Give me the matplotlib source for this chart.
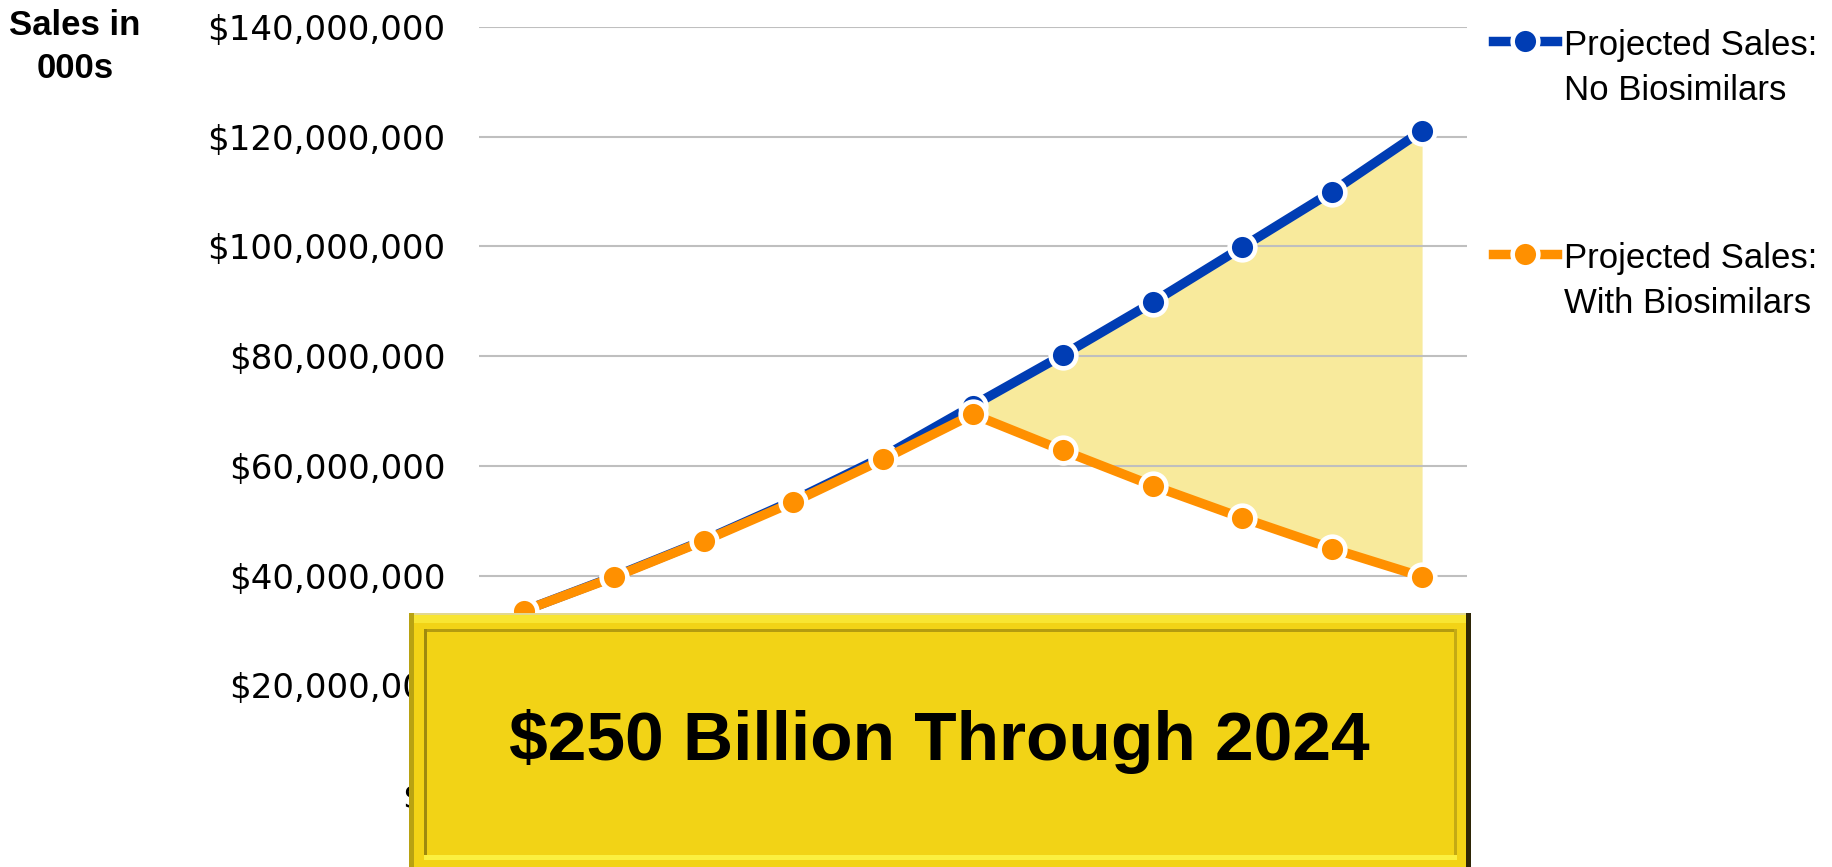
import numpy as np
import matplotlib.pyplot as plt
from matplotlib.patches import Rectangle
from matplotlib.ticker import FuncFormatter

years = [2014, 2015, 2016, 2017, 2018, 2019, 2020, 2021, 2022, 2023, 2024]
# sales in thousands of dollars
no_biosimilars = [33.6e6, 39.8e6, 46.4e6, 53.7e6, 61.7e6, 71.0e6,
                  80.2e6, 89.8e6, 99.9e6, 110.0e6, 121.1e6]
with_biosimilars = [33.6e6, 39.7e6, 46.3e6, 53.4e6, 61.2e6, 69.4e6,
                    62.8e6, 56.4e6, 50.5e6, 44.9e6, 39.8e6]
series_labels = ["Projected Sales:\nNo Biosimilars", "Projected Sales:\nWith Biosimilars"]
callout = "$250 Billion Through 2024"

blue = "#003DB4"
orange = "#FF9000"
gap_fill = "#F8EA9C"

W, H = 1833, 867
fig = plt.figure(figsize=(W / 100, H / 100), dpi=100)
ax = fig.add_axes([479 / W, 72 / H, (1467 - 479) / W, (795 - 27) / H])

x = np.arange(len(years))
ax.fill_between(x[5:], with_biosimilars[5:], no_biosimilars[5:],
                color=gap_fill, lw=0, zorder=0.3)
ax.plot(x, no_biosimilars, color=blue, lw=6.8, marker="o", ms=18.5,
        mfc=blue, mec="white", mew=3.3, label=series_labels[0], zorder=3)
ax.plot(x, with_biosimilars, color=orange, lw=6.8, marker="o", ms=18.5,
        mfc=orange, mec="white", mew=3.3, label=series_labels[1], zorder=4)

ax.set_xlim(-0.5, len(years) - 0.5)
ax.set_ylim(0, 140e6)
ax.set_yticks(np.arange(0, 140e6 + 1, 20e6))
ax.yaxis.set_major_formatter(FuncFormatter(lambda v, p: f"${v:,.0f}"))
ax.set_xticks(x)
ax.set_xticklabels([str(y) for y in years])
ax.tick_params(axis="y", length=0, pad=24, labelsize=24.5)
ax.tick_params(axis="x", length=0, labelsize=20)
ax.grid(axis="y", color="#BFBFBF", lw=1.5)
ax.set_axisbelow(True)
for s in ax.spines.values():
    s.set_visible(False)

fig.text(75 / W, 1 - 9 / H, "Sales in\n000s", ha="center", va="top",
         fontsize=25, fontweight="bold", family="Liberation Sans",
         linespacing=1.4)

leg = ax.legend(loc="upper left", bbox_to_anchor=(1493 / W, 1 - 29 / H),
                bbox_transform=fig.transFigure, frameon=False,
                prop={"family": "Liberation Sans", "size": 25},
                handlelength=1.85, handletextpad=0.2, labelspacing=3.9,
                borderpad=0, borderaxespad=0)
for t in leg.get_texts():
    t.set_linespacing(1.45)
# put the marker beside the first line of each two-line label
for col in leg._legend_handle_box.get_children():
    for row in col.get_children():
        row.align = "top"

# bevelled gold callout panel over the lower part of the chart
bx = fig.add_axes([409 / W, 0, (1471 - 409) / W, (867 - 613) / H])
bx.set_xlim(0, 1062)
bx.set_ylim(0, 254)
bx.axis("off")
bx.add_patch(Rectangle((0, 0), 1062, 254, fc="#F2D316", ec="none"))
bx.add_patch(Rectangle((0, 244), 1062, 10, fc="#F8E532", ec="none"))
bx.add_patch(Rectangle((0, 252), 1062, 2, fc="#E2D890", ec="none"))
bx.add_patch(Rectangle((0, 0), 5, 254, fc="#B8A212", ec="none"))
bx.add_patch(Rectangle((1057, 0), 5, 254, fc="#2E2606", ec="none"))
bx.add_patch(Rectangle((15, 12), 1033, 226, fc="#F2D316", ec="none"))
bx.add_patch(Rectangle((15, 235), 1033, 3, fc="#B39B10", ec="none"))
bx.add_patch(Rectangle((15, 12), 3, 226, fc="#9E890E", ec="none"))
bx.add_patch(Rectangle((1045, 12), 3, 226, fc="#C4AA14", ec="none"))
bx.add_patch(Rectangle((15, 7), 1033, 5, fc="#FBF040", ec="none"))
bx.text(530, 107, callout, ha="center", va="baseline", fontsize=50,
        fontweight="bold", family="Liberation Sans", color="black")

fig.savefig("out.png", dpi=100)
